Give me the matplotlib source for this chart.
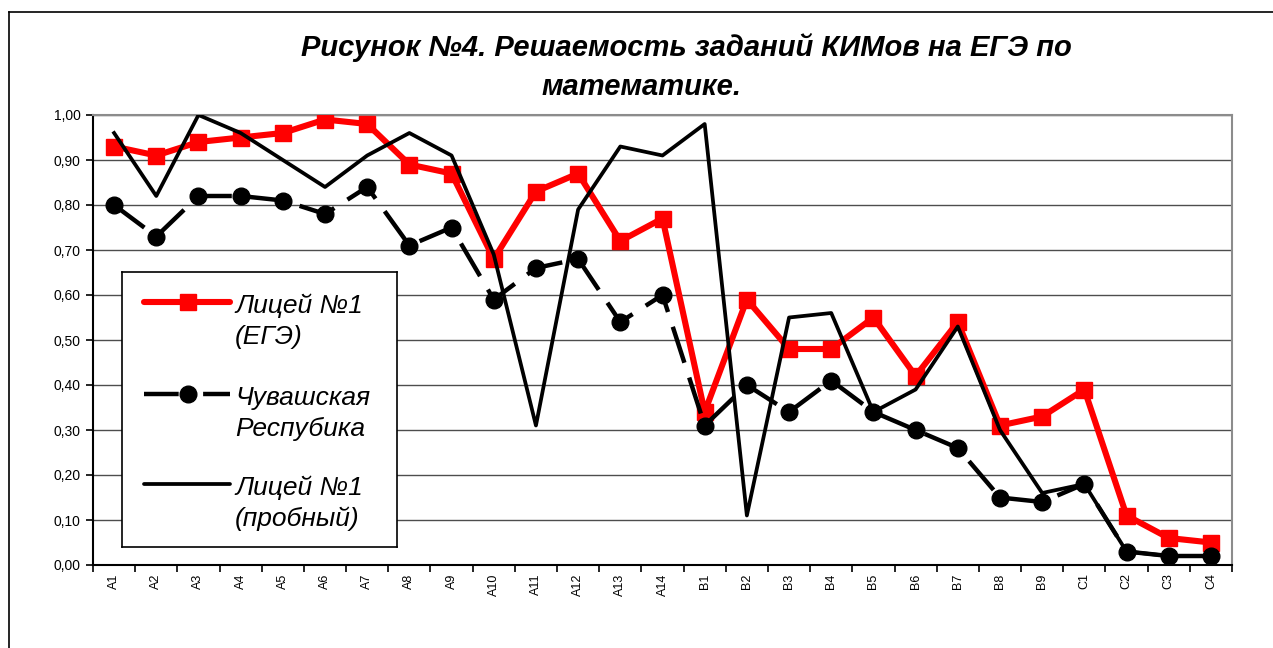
import matplotlib
matplotlib.use("Agg")
import matplotlib.pyplot as plt
from matplotlib.lines import Line2D
from matplotlib.ticker import FuncFormatter, FixedLocator

plt.rcParams["font.family"] = ["Liberation Sans", "DejaVu Sans"]

tasks = [
    "A1", "A2", "A3", "A4", "A5", "A6", "A7", "A8", "A9", "A10", "A11", "A12", "A13", "A14",
    "B1", "B2", "B3", "B4", "B5", "B6", "B7", "B8", "B9",
    "C1", "C2", "C3", "C4",
]

lyceum_ege = [
    0.93, 0.91, 0.94, 0.95, 0.96, 0.99, 0.98, 0.89, 0.87, 0.68, 0.83, 0.87, 0.72, 0.77,
    0.34, 0.59, 0.48, 0.48, 0.55, 0.42, 0.54, 0.31, 0.33,
    0.39, 0.11, 0.06, 0.05,
]
chuvashia = [
    0.80, 0.73, 0.82, 0.82, 0.81, 0.78, 0.84, 0.71, 0.75, 0.59, 0.66, 0.68, 0.54, 0.60,
    0.31, 0.40, 0.34, 0.41, 0.34, 0.30, 0.26, 0.15, 0.14,
    0.18, 0.03, 0.02, 0.02,
]
lyceum_trial = [
    0.96, 0.82, 1.00, 0.96, 0.90, 0.84, 0.91, 0.96, 0.91, 0.69, 0.31, 0.79, 0.93, 0.91,
    0.98, 0.11, 0.55, 0.56, 0.34, 0.39, 0.53, 0.30, 0.16,
    0.18, 0.03, 0.02, 0.02,
]

# legend labels, two lines each (spelling kept as in the source)
series_labels = [
    ("Лицей №1", "(ЕГЭ)"),
    ("Чувашская", "Респубика"),
    ("Лицей №1", "(пробный)"),
]

title_line1 = "Рисунок №4. Решаемость заданий КИМов на ЕГЭ по"
title_line2 = "математике."

W, H = 1273, 648
fig = plt.figure(figsize=(W / 100, H / 100), dpi=100)

# outer frame (cut off at right and bottom like the source)
fig.add_artist(Line2D([9 / W, 1.0], [1 - 12 / H, 1 - 12 / H], color="black", lw=1.2))
fig.add_artist(Line2D([9 / W, 9 / W], [0.0, 1 - 12 / H], color="black", lw=1.2))

fig.text(686 / W, 1 - 56 / H, title_line1, ha="center", va="baseline",
         fontsize=21, fontweight="bold", fontstyle="italic")
fig.text(642 / W, 1 - 95 / H, title_line2, ha="center", va="baseline",
         fontsize=21, fontweight="bold", fontstyle="italic")

ax = fig.add_axes([93 / W, 1 - 565 / H, (1232 - 93) / W, 450 / H])
x = list(range(len(tasks)))

red_style = dict(color="#ff0000", lw=4.4, marker="s", markersize=12)
dash_style = dict(color="black", lw=3.2, marker="o", markersize=12, dashes=(8.5, 3.5))
solid_style = dict(color="black", lw=2.7)

ax.plot(x, lyceum_ege, zorder=3, **red_style)
ax.plot(x, chuvashia, zorder=4, **dash_style)
ax.plot(x, lyceum_trial, zorder=5, **solid_style)

ax.set_xlim(-0.5, len(tasks) - 0.5)
ax.set_ylim(0, 1)
ax.set_yticks([i / 10 for i in range(11)])
ax.yaxis.set_major_formatter(FuncFormatter(lambda v, pos: f"{v:.2f}".replace(".", ",")))
ax.yaxis.grid(True, color="#4d4d4d", lw=1.0)
ax.set_axisbelow(True)

ax.set_xticks(x)
ax.set_xticklabels(tasks, rotation=90, fontsize=9)
ax.xaxis.set_minor_locator(FixedLocator([i - 0.5 for i in range(len(tasks) + 1)]))
ax.tick_params(axis="x", which="major", length=0, pad=6)
ax.tick_params(axis="x", which="minor", length=5, width=1.2, color="black")
ax.tick_params(axis="y", length=5, width=1.2, labelsize=10, pad=4)

for side in ("top", "right"):
    ax.spines[side].set_color("#8c8c8c")
    ax.spines[side].set_linewidth(1.5)
for side in ("left", "bottom"):
    ax.spines[side].set_color("black")
    ax.spines[side].set_linewidth(1.5)

# legend box, drawn like the Excel one (handle next to the first text line)
leg = fig.add_axes([122 / W, 1 - 547 / H, 275 / W, 275 / H])
leg.set_xlim(0, 275)
leg.set_ylim(275, 0)
leg.set_xticks([])
leg.set_yticks([])
for s in leg.spines.values():
    s.set_color("black")
    s.set_linewidth(1.2)
leg.set_zorder(10)

legend_styles = [
    dict(red_style, marker=None),
    dict(dash_style, marker=None, dashes=(7.8, 5.5)),
    dict(solid_style),
]
marker_styles = [red_style, dash_style, None]
rows = [30, 122, 212]
for (first, second), style, mstyle, y in zip(series_labels, legend_styles, marker_styles, rows):
    leg.plot([22, 108], [y, y], solid_capstyle="round", **style)
    if mstyle is not None:
        leg.plot([66], [y], color=mstyle["color"], marker=mstyle["marker"],
                 markersize=mstyle["markersize"], lw=0)
    leg.text(113, y + 11, first, fontsize=19, fontstyle="italic", va="baseline")
    leg.text(113, y + 42, second, fontsize=19, fontstyle="italic", va="baseline")

fig.savefig("out.png", dpi=100)
